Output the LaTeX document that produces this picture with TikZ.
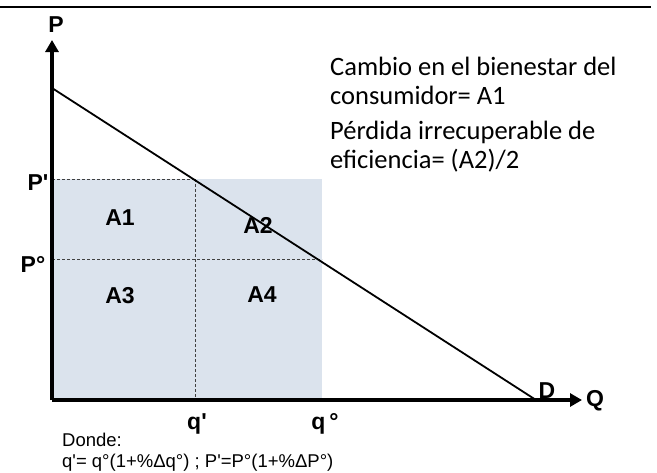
\documentclass[tikz,border=0pt]{standalone}
\usepackage{fontspec}
\setmainfont{Liberation Sans}
\newfontfamily\txtfont{Carlito}
\usetikzlibrary{arrows.meta}
\definecolor{areafill}{RGB}{219,227,237}
\tikzset{
  axis/.style={line width=3.5pt,-{Triangle[length=12pt,width=13pt]}},
  guide/.style={line width=0.6pt,densely dashed,black!75},
  lbl/.style={font=\fontsize{23}{26}\selectfont\bfseries,inner sep=0pt},
  note/.style={font=\txtfont\fontsize{26.5}{29}\selectfont,align=left,anchor=base west,inner sep=0pt},
  foot/.style={font=\fontsize{18.5}{20}\selectfont,anchor=base west,inner sep=0pt}
}
\begin{document}
\begin{tikzpicture}[x=1pt,y=-1pt]
\useasboundingbox (0,0) rectangle (657,472);
% top rule
\coordinate (r1) at (0,7);
\coordinate (r2) at (651,7);
\draw[line width=2pt] (r1) -- (r2);
% key points
\coordinate (O) at (52,400);
\coordinate (Ytop) at (52,40);
\coordinate (Xend) at (582,400);
\coordinate (Dstart) at (52,88);
\coordinate (Dend) at (536,400);
\coordinate (Pp) at (52,179);
\coordinate (Po) at (52,259);
\coordinate (qp) at (195,400);
\coordinate (qo) at (322,400);
\coordinate (Epp) at (195,179);
\coordinate (Eoo) at (322,259);
% shaded region
\fill[areafill] (Pp) rectangle (qo);
% guides
\draw[guide] (Pp) -- (Epp);
\draw[guide] (Po) -- (Eoo);
\draw[guide] (Epp) -- (qp);
% demand
\draw[line width=1.8pt] (Dstart) -- (Dend);
% axes
\draw[axis] (O) -- (Ytop);
\draw[axis] (O) -- (Xend);
% axis labels
\node[lbl] (P) at (56,25) {P};
\node[lbl] (Q) at (595,401) {Q};
\node[lbl] (D) at (547,391) {D};
\node[lbl] (lPp) at (38,183) {P\textquotesingle};
\node[lbl] (lPo) at (33,264) {P°};
\node[lbl] (lqp) at (197,424) {q\textquotesingle};
\node[lbl] (lqo) at (325,424) {q\,°};
% areas
\node[lbl] (A1) at (120,218) {A1};
\node[lbl] (A2) at (258,225) {A2};
\node[lbl] (A3) at (120,296) {A3};
\node[lbl] (A4) at (262,295) {A4};
% notes (anchor = baseline of last line)
\node[note] (n1) at (330,104) {Cambio en el bienestar del\\consumidor= A1};
\node[note] (n2) at (330,168) {Pérdida irrecuperable de\\eficiencia= (A2)/2};
\node[foot] (f1) at (62,446) {Donde:};
\node[foot] (f2) at (62,467) {q\textquotesingle= q°(1+\%Δq°) ; P\textquotesingle=P°(1+\%ΔP°)};
\end{tikzpicture}
\end{document}
